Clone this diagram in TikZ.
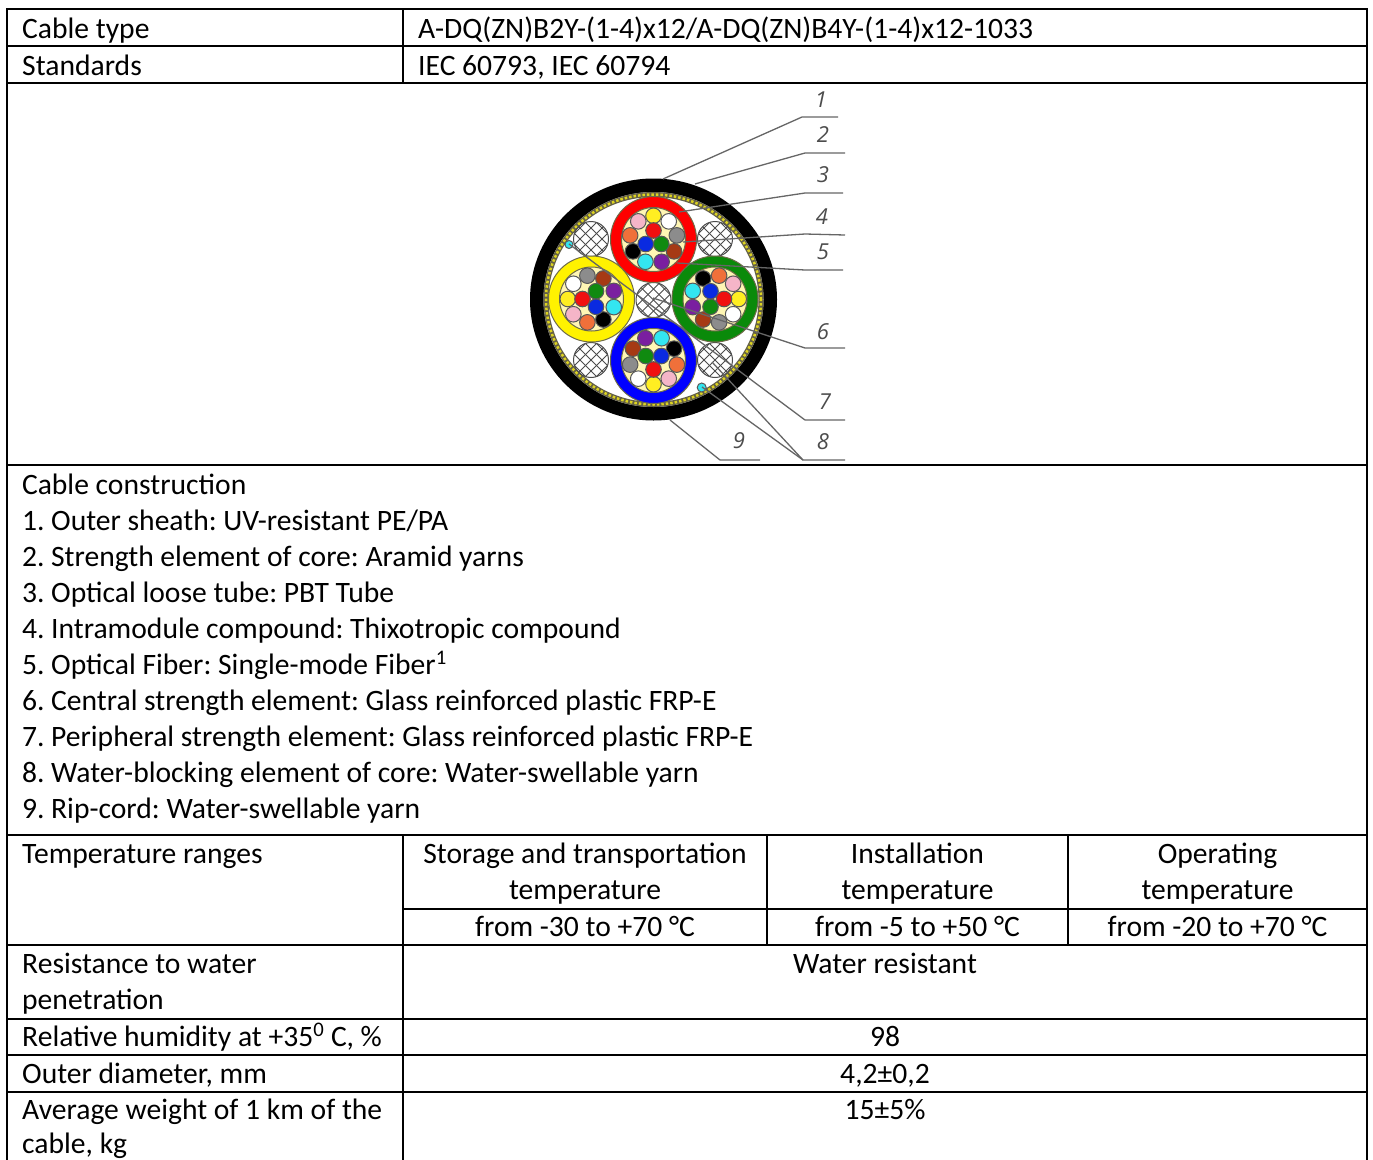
\documentclass[tikz,border=0pt]{standalone}
\usepackage{fontspec}
\setmainfont{Carlito}
\newfontfamily\numfont{Open Sans}
\usetikzlibrary{positioning}

\definecolor{fibyellow}{HTML}{FFEE22}
\definecolor{fibwhite}{HTML}{FFFFFF}
\definecolor{fibgrey}{HTML}{8C8C8C}
\definecolor{fibbrown}{HTML}{A63A14}
\definecolor{fibpurple}{HTML}{7A1FA0}
\definecolor{fibcyan}{HTML}{33E6F0}
\definecolor{fibblack}{HTML}{000000}
\definecolor{fiborange}{HTML}{F0703A}
\definecolor{fibpink}{HTML}{F5B5C8}
\definecolor{fibred}{HTML}{F01010}
\definecolor{fibgreen}{HTML}{108A10}
\definecolor{fibblue}{HTML}{0A2AE0}
\definecolor{gelfill}{HTML}{FFF6B4}
\definecolor{tubegreen}{HTML}{0A8A0A}

% loose tube: x, y, colour, angle of the first fibre
\newcommand{\cabletube}[4]{
	\begin{scope}[shift={(#1,#2)}]
		\draw [tubeline, fill=#3] (0,0) circle (43pt);
		\draw [tubeline, fill=gelfill] (0,0) circle (32pt);
		\foreach \col [count=\i from 0] in {fibyellow,fibwhite,fibgrey,fibbrown,fibpurple,fibcyan,fibblack,fiborange,fibpink}
			\draw [fibre, fill=\col] (#4-40*\i:23.7pt) circle (7.8pt);
		\foreach \col [count=\i from 0] in {fibred,fibgreen,fibblue}
			\draw [fibre, fill=\col] (#4-120*\i:9pt) circle (7.8pt);
	\end{scope}
}
% filler with cross hatching: x, y
\newcommand{\cablefiller}[2]{
	\begin{scope}[shift={(#1,#2)}]
		\begin{scope}
			\clip (0,0) circle (17.5pt);
			\foreach \d in {-33,-22,-11,0,11,22,33} {
				\draw [hatch] (\d pt-20pt,-20pt) -- (\d pt+20pt,20pt);
				\draw [hatch] (\d pt-20pt,20pt) -- (\d pt+20pt,-20pt);
			}
		\end{scope}
		\draw [hatch] (0,0) circle (17.5pt);
	\end{scope}
}

\begin{document}
\frenchspacing
\begin{tikzpicture}[
	x=1pt, y=-1pt,
	node distance=0pt and 0pt,
	font=\fontsize{29.6}{36}\selectfont,
	rule/.style={draw, line width=2.2pt, line cap=rect},
	celltext/.style={anchor=base west, inner sep=0pt},
	centertext/.style={anchor=base, inner sep=0pt},
	listitem/.style={inner sep=0pt, outer sep=0pt, text height=20pt, text depth=16pt},
	numlabel/.style={font=\fontsize{22}{22}\numfont\itshape, text=black!70, inner sep=0pt},
	tubeline/.style={draw=black!65!yellow, line width=1pt},
	fibre/.style={draw=black!65, line width=1pt},
	hatch/.style={draw=black!70, line width=1pt},
	leader/.style={draw=black!60, line width=1.3pt},
	]
	
	\useasboundingbox (0,0) rectangle (1373,1159);
	\fill [white] (0,0) rectangle (1373,1159);
	
	% table rules
	\path [rule] (7,9) -- (1367,9);
	\path [rule] (7,46) -- (1367,46);
	\path [rule] (7,83) -- (1367,83);
	\path [rule] (7,465) -- (1367,465);
	\path [rule] (7,835) -- (1367,835);
	\path [rule] (403,909) -- (1367,909);
	\path [rule] (7,945) -- (1367,945);
	\path [rule] (7,1019) -- (1367,1019);
	\path [rule] (7,1055) -- (1367,1055);
	\path [rule] (7,1092) -- (1367,1092);
	\begin{scope}
		\clip (0,0) rectangle (1373,1159);
		\path [rule] (7,9) -- (7,1170);
		\path [rule] (1367,9) -- (1367,1170);
		\path [rule] (403,9) -- (403,83);
		\path [rule] (403,835) -- (403,1170);
		\path [rule] (767,835) -- (767,945);
		\path [rule] (1068,835) -- (1068,945);
	\end{scope}
	
	% top rows
	\node [celltext] (type) at (22,38) {Cable type};
	\node [celltext] (typeval) at (418,38) {A-DQ(ZN)B2Y-(1-4)x12/A-DQ(ZN)B4Y-(1-4)x12-1033};
	\node [celltext] (std) at (22,75) {Standards};
	\node [celltext] (stdval) at (418,75) {IEC 60793, IEC 60794};
	
	% cable section
	\fill [black] (653.5,299.5) ellipse [x radius=123.5pt, y radius=121pt];
	\fill [white] (653.5,299.5) ellipse [x radius=110pt, y radius=107.5pt];
	\draw [black!70!yellow, line width=5pt] (653.5,299.5) ellipse [x radius=107.5pt, y radius=105pt];
	\draw [yellow!85!black, line width=2.5pt, dash pattern=on 2.5pt off 2pt] (653.5,299.5) ellipse [x radius=107.5pt, y radius=105pt];
	\cablefiller{653.5}{300}
	\cablefiller{591}{239}
	\cablefiller{715}{239}
	\cablefiller{591}{360}
	\cablefiller{715}{360}
	\cabletube{653.5}{239.5}{red}{90}
	\cabletube{591.5}{299}{yellow}{180}
	\cabletube{715}{299}{tubegreen}{0}
	\cabletube{653.5}{360.5}{blue}{-90}
	\draw [fibre, fill=fibcyan] (569,244.5) circle (4pt);
	\draw [fibre, fill=fibcyan] (701.7,387.5) circle (4.5pt);
	
	% leaders
	\coordinate (a1) at (663,179);
	\coordinate (b1) at (802,117);
	\coordinate (c1) at (838,117);
	\coordinate (a2) at (695,184);
	\coordinate (b2) at (805,153);
	\coordinate (c2) at (845,153);
	\coordinate (a3) at (679,212);
	\coordinate (b3) at (805,193);
	\coordinate (c3) at (843,193);
	\coordinate (a4) at (683,242);
	\coordinate (b4) at (805,234);
	\coordinate (c4) at (845,235);
	\coordinate (a5) at (677,263);
	\coordinate (b5) at (805,270);
	\coordinate (c5) at (843,270);
	\coordinate (a6) at (653,298);
	\coordinate (b6) at (805,348);
	\coordinate (c6) at (845,348);
	\coordinate (a7) at (569,244);
	\coordinate (b7) at (805,420);
	\coordinate (c7) at (845,420);
	\coordinate (a8) at (712,362);
	\coordinate (d8) at (702,387);
	\coordinate (b8) at (803,460);
	\coordinate (c8) at (845,460);
	\coordinate (a9) at (670,420);
	\coordinate (b9) at (720,460);
	\coordinate (c9) at (760,460);
	\draw [leader] (a1) -- (b1) -- (c1);
	\draw [leader] (a2) -- (b2) -- (c2);
	\draw [leader] (a3) -- (b3) -- (c3);
	\draw [leader] (a4) -- (b4) -- (c4);
	\draw [leader] (a5) -- (b5) -- (c5);
	\draw [leader] (a6) -- (b6) -- (c6);
	\draw [leader] (a7) -- (b7) -- (c7);
	\draw [leader] (a8) -- (b8) -- (c8);
	\draw [leader] (d8) -- (b8);
	\draw [leader] (a9) -- (b9) -- (c9);
	
	\node [numlabel] (n1) at (821,100) {1};
	\node [numlabel] (n2) at (823,135) {2};
	\node [numlabel] (n3) at (823,175) {3};
	\node [numlabel] (n4) at (822,217) {4};
	\node [numlabel] (n5) at (823,252) {5};
	\node [numlabel] (n6) at (823,332) {6};
	\node [numlabel] (n7) at (825,402) {7};
	\node [numlabel] (n8) at (823,442) {8};
	\node [numlabel] (n9) at (739,441) {9};
	
	% construction list
	\node [listitem, anchor=north west] (l0) at (22,474) {Cable construction};
	\node [listitem, below right=of l0.south west] (l1) {1. Outer sheath: UV-resistant PE/PA};
	\node [listitem, below right=of l1.south west] (l2) {2. Strength element of core: Aramid yarns};
	\node [listitem, below right=of l2.south west] (l3) {3. Optical loose tube: PBT Tube};
	\node [listitem, below right=of l3.south west] (l4) {4. Intramodule compound: Thixotropic compound};
	\node [listitem, below right=of l4.south west] (l5) {5. Optical Fiber: Single-mode Fiber\textsuperscript{1}};
	\node [listitem, below right=of l5.south west] (l6) {6. Central strength element: Glass reinforced plastic FRP-E};
	\node [listitem, below right=of l6.south west] (l7) {7. Peripheral strength element: Glass reinforced plastic FRP-E};
	\node [listitem, below right=of l7.south west] (l8) {8. Water-blocking element of core: Water-swellable yarn};
	\node [listitem, below right=of l8.south west] (l9) {9. Rip-cord: Water-swellable yarn};
	
	% temperature rows
	\node [celltext] (temp) at (22,863) {Temperature ranges};
	\node [centertext] (t1a) at (585,863) {Storage and transportation};
	\node [centertext] (t1b) at (585,899) {temperature};
	\node [centertext] (t1c) at (585,936) {from -30 to +70 °C};
	\node [centertext] (t2a) at (917.5,863) {Installation};
	\node [centertext] (t2b) at (917.5,899) {temperature};
	\node [centertext] (t2c) at (917.5,936) {from -5 to +50 °C};
	\node [centertext] (t3a) at (1217.5,863) {Operating};
	\node [centertext] (t3b) at (1217.5,899) {temperature};
	\node [centertext] (t3c) at (1217.5,936) {from -20 to +70 °C};
	
	% remaining rows
	\node [celltext] (res1) at (22,973) {Resistance to water};
	\node [celltext] (res2) at (22,1009) {penetration};
	\node [centertext] (resval) at (885,973) {Water resistant};
	\node [celltext] (hum) at (22,1046) {Relative humidity at +35\textsuperscript{0} C, \%};
	\node [centertext] (humval) at (885,1046) {98};
	\node [celltext] (dia) at (22,1083) {Outer diameter, mm};
	\node [centertext] (diaval) at (885,1083) {4,2±0,2};
	\node [celltext] (wgt1) at (22,1119) {Average weight of 1 km of the};
	\node [celltext] (wgt2) at (22,1153) {cable, kg};
	\node [centertext] (wgtval) at (885,1119) {15±5\%};
\end{tikzpicture}
\end{document}
